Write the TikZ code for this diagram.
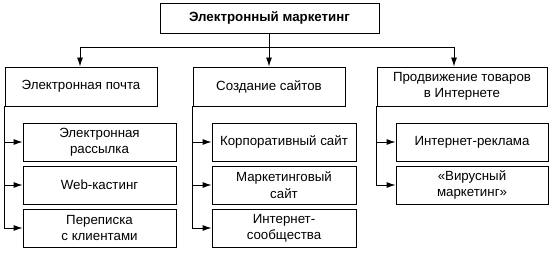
\documentclass[tikz,border=0pt]{standalone}
\usepackage{fontspec}
\setmainfont{Liberation Sans}
\usetikzlibrary{arrows.meta}
\begin{document}
\begin{tikzpicture}[x=1pt,y=-1pt,
  box/.style={draw=black,line width=0.9pt,rectangle,inner sep=0pt,align=center,
    font=\fontsize{13.3}{16.5}\selectfont},
  lone/.style={box,minimum width=152pt,minimum height=39pt},
  sub/.style={box,minimum height=38pt},
  arr/.style={line width=0.9pt,-{Latex[length=9pt,width=6pt]}},
  ln/.style={line width=0.9pt}]
\useasboundingbox (0,0) rectangle (551,254);
\node[box,minimum width=219pt,minimum height=30pt,font=\fontsize{13.3}{16.5}\selectfont\bfseries] (top) at (269.5,18) {Электронный маркетинг};
\node[lone] (A) at (81,86.5) {Электронная почта};
\node[lone] (B) at (269,86.5) {Создание сайтов};
\node[lone,minimum width=170pt] (C) at (462,86.5) {Продвижение товаров\\в Интернете};
\node[sub,minimum width=153pt] (a1) at (99.5,142) {Электронная\\рассылка};
\node[sub,minimum width=153pt] (a2) at (99.5,185) {Web-кастинг};
\node[sub,minimum width=153pt] (a3) at (99.5,228) {Переписка\\с клиентами};
\node[sub,minimum width=144pt] (b1) at (284,142) {Корпоративный сайт};
\node[sub,minimum width=144pt] (b2) at (284,185) {Маркетинговый\\сайт};
\node[sub,minimum width=144pt] (b3) at (284,228) {Интернет-\\сообщества};
\node[sub,minimum width=152pt] (c1) at (472,142) {Интернет-реклама};
\node[sub,minimum width=152pt] (c2) at (472,185) {«Вирусный\\маркетинг»};
\coordinate (hL) at (80,47);
\coordinate (hR) at (454,47);
\draw[ln] (hL) -- (hR);
\draw[arr] (hL) -- (hL |- A.north);
\draw[arr] (hR) -- (hR |- C.north);
\draw[arr] (top.south -| B.north) -- (B.north);
\draw[arr] (A.south west) |- (a3.west);
\draw[arr] (A.south west |- a1.west) -- (a1.west);
\draw[arr] (A.south west |- a2.west) -- (a2.west);
\draw[arr] (B.south west) |- (b3.west);
\draw[arr] (B.south west |- b1.west) -- (b1.west);
\draw[arr] (B.south west |- b2.west) -- (b2.west);
\draw[arr] (C.south west) |- (c2.west);
\draw[arr] (C.south west |- c1.west) -- (c1.west);
\end{tikzpicture}
\end{document}
